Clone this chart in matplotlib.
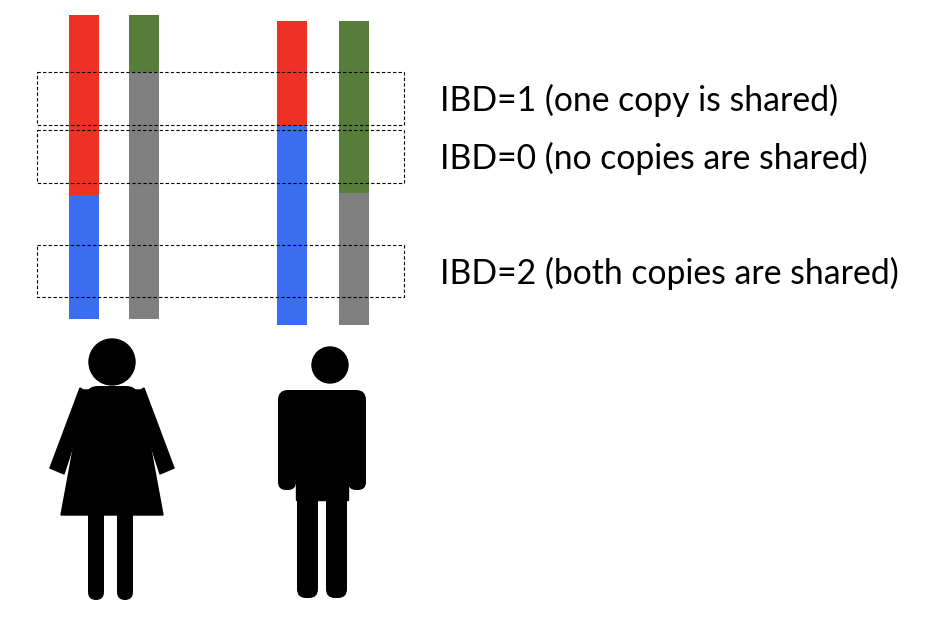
import matplotlib
matplotlib.use("Agg")
import matplotlib.pyplot as plt
from matplotlib.patches import Rectangle, Circle, Polygon, FancyBboxPatch

# chromosome segments: (x_left, y_top, y_bottom, colour)
bar_x = [69, 129, 277, 339]
seg_bounds = [[15, 195, 319], [15, 72, 319], [21, 126, 325], [21, 193, 325]]
seg_colors = [["#ee3124", "#3a6df0"], ["#567d3a", "#808080"],
              ["#ee3124", "#3a6df0"], ["#567d3a", "#808080"]]
box_y = [(72, 125), (130, 183), (245, 297)]
labels = ["IBD=1 (one copy is shared)", "IBD=0 (no copies are shared)",
          "IBD=2 (both copies are shared)"]
label_y = [100, 158, 273]

fig = plt.figure(figsize=(9.47, 6.2), dpi=100)
ax = fig.add_axes([0, 0, 1, 1])
ax.set_xlim(0, 947); ax.set_ylim(620, 0); ax.axis("off")

for x, b, cs in zip(bar_x, seg_bounds, seg_colors):
    for i, c in enumerate(cs):
        ax.add_patch(Rectangle((x, b[i]), 30, b[i+1]-b[i], color=c, lw=0))
for (y0, y1) in box_y:
    ax.add_patch(Rectangle((37, y0), 367, y1-y0, fill=False, ls=(0, (3, 2)), lw=0.8, ec="black"))
for t, y in zip(labels, label_y):
    ax.text(440, y, t, fontsize=24.3, family="Lato", va="center", ha="left")

k = "black"
def rr(x, y, w, h, r=7):
    ax.add_patch(FancyBboxPatch((x+r, y+r), w-2*r, h-2*r, boxstyle=f"round,pad={r}", fc=k, ec="none"))
# woman
ax.add_patch(Circle((112, 362), 23, color=k))
ax.add_patch(Polygon([(84, 390), (140, 390), (163, 515), (61, 515)], color=k))
rr(86, 386, 52, 36, 12)
ax.add_patch(Polygon([(80, 388), (90, 394), (64, 474), (50, 468)], color=k))
ax.add_patch(Polygon([(144, 388), (134, 394), (160, 474), (174, 468)], color=k))
rr(88, 500, 16, 100, 8); rr(117, 500, 16, 100, 8)
# man
ax.add_patch(Circle((330, 365), 18, color=k))
rr(278, 390, 88, 45, 10)
rr(278, 400, 18, 90, 8); rr(348, 400, 18, 90, 8)
ax.add_patch(Rectangle((296, 400), 52, 100, color=k))
rr(297, 480, 21, 118, 9); rr(326, 480, 21, 118, 9)

fig.savefig("out.png", dpi=100)
